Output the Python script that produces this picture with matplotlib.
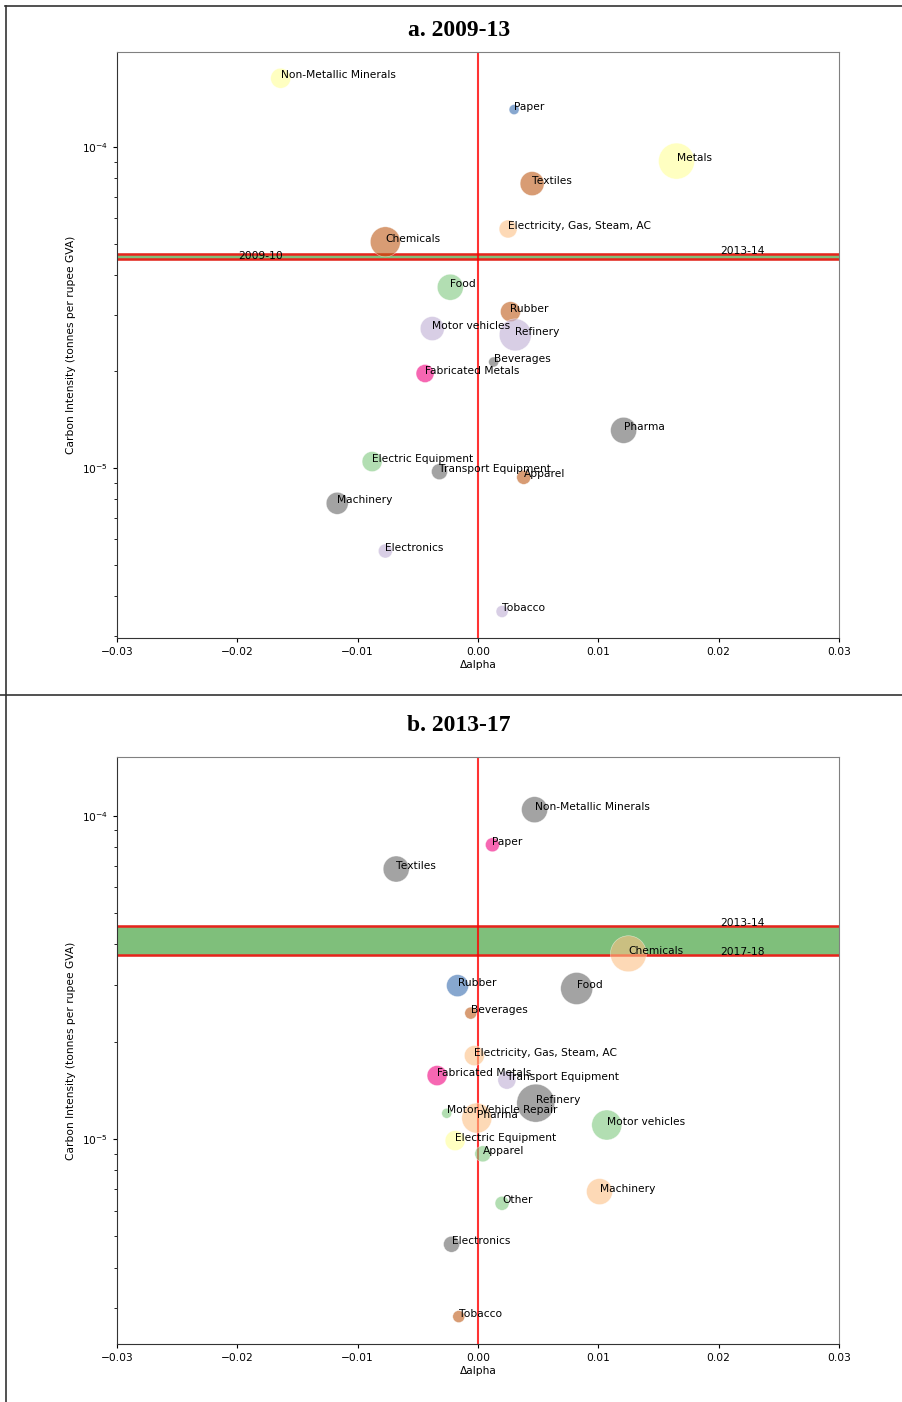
import matplotlib.pyplot as plt
from matplotlib.lines import Line2D

# Paleta (Accent)
GREEN, PURPLE, ORANGE, YELLOW = "#7fc97f", "#beaed4", "#fdc086", "#ffff99"
BLUE, PINK, BROWN, GREY = "#386cb0", "#f0027f", "#bf5b17", "#666666"

# ---- a. 2009-13 ----
setores_a = ["Non-Metallic Minerals", "Paper", "Metals", "Textiles",
             "Electricity, Gas, Steam, AC", "Chemicals", "Food", "Rubber",
             "Motor vehicles", "Refinery", "Beverages", "Fabricated Metals",
             "Pharma", "Electric Equipment", "Transport Equipment", "Apparel",
             "Machinery", "Electronics", "Tobacco"]
dalpha_a = [-0.0164, 0.0030, 0.0165, 0.0045, 0.0025, -0.0077, -0.0023, 0.0027,
            -0.0038, 0.0031, 0.0013, -0.0044, 0.0121, -0.0088, -0.0032, 0.0038,
            -0.0117, -0.0077, 0.0020]
ci_a = [1.64e-4, 1.31e-4, 9.05e-5, 7.70e-5, 5.56e-5, 5.07e-5, 3.66e-5, 3.07e-5,
        2.72e-5, 2.60e-5, 2.14e-5, 1.97e-5, 1.31e-5, 1.047e-5, 9.74e-6, 9.35e-6,
        7.76e-6, 5.51e-6, 3.57e-6]
peso_a = [10, 5, 18, 12, 9, 15, 13, 10, 12, 16, 5, 9, 13, 10, 8, 7, 11, 7, 6]
cores_a = [YELLOW, BLUE, YELLOW, BROWN, ORANGE, BROWN, GREEN, BROWN, PURPLE,
           PURPLE, GREY, PINK, GREY, GREEN, GREY, BROWN, GREY, PURPLE, PURPLE]
anos_a = ["2013-14", "2009-10"]
ci_ano_a = [4.64e-5, 4.48e-5]
x_ano_a = [0.0201, -0.0199]

# ---- b. 2013-17 ----
setores_b = ["Non-Metallic Minerals", "Paper", "Textiles", "Chemicals", "Rubber",
             "Food", "Beverages", "Electricity, Gas, Steam, AC",
             "Fabricated Metals", "Transport Equipment", "Refinery",
             "Motor Vehicle Repair", "Pharma", "Motor vehicles",
             "Electric Equipment", "Apparel", "Machinery", "Other",
             "Electronics", "Tobacco"]
dalpha_b = [0.0047, 0.0012, -0.0068, 0.0125, -0.0017, 0.0082, -0.0006, -0.0003,
            -0.0034, 0.0024, 0.0048, -0.0026, -0.0001, 0.0107, -0.0019, 0.0004,
            0.0101, 0.0020, -0.0022, -0.0016]
ci_b = [1.044e-4, 8.13e-5, 6.84e-5, 3.74e-5, 2.98e-5, 2.92e-5, 2.45e-5, 1.81e-5,
        1.57e-5, 1.52e-5, 1.29e-5, 1.20e-5, 1.16e-5, 1.104e-5, 9.88e-6, 8.99e-6,
        6.87e-6, 6.32e-6, 4.72e-6, 2.82e-6]
peso_b = [13, 7, 13, 18, 11, 16, 6, 10, 10, 9, 19, 5, 15, 15, 10, 8, 13, 7, 8, 6]
cores_b = [GREY, PINK, GREY, ORANGE, BLUE, GREY, BROWN, ORANGE, PINK, PURPLE,
           GREY, GREEN, ORANGE, GREEN, YELLOW, GREEN, ORANGE, GREEN, GREY, BROWN]
anos_b = ["2013-14", "2017-18"]
ci_ano_b = [4.55e-5, 3.72e-5]
x_ano_b = [0.0201, 0.0201]

FS = 7.7

fig = plt.figure(figsize=(9.03, 14.02), dpi=100)


def painel(rect, titulo, titulo_y, setores, dalpha, ci, peso, cores,
           anos, ci_ano, x_ano, ylim):
    ax = fig.add_axes(rect)
    ax.set_yscale("log")
    ax.axhspan(min(ci_ano), max(ci_ano), color="#7fbf7b", zorder=1)
    for lab, v, xt in zip(anos, ci_ano, x_ano):
        ax.axhline(v, color="#e8231c", lw=1.8, zorder=2)
        ax.text(xt, v, lab, fontsize=FS, zorder=5)
    ax.axvline(0, color="red", lw=1.5, alpha=0.8, zorder=2)
    ax.scatter(dalpha, ci, s=[(1.44 * p) ** 2 for p in peso], c=cores,
               alpha=0.6, edgecolors="white", linewidths=0.4, zorder=3)
    for nome, x, y in zip(setores, dalpha, ci):
        ax.text(x, y, nome, fontsize=FS, zorder=6)
    ax.set_xlim(-0.03, 0.03)
    ax.set_ylim(*ylim)
    ax.set_xticks([-0.03, -0.02, -0.01, 0.0, 0.01, 0.02, 0.03])
    ax.tick_params(labelsize=FS, length=3, width=0.8)
    ax.tick_params(which="minor", length=2, width=0.6)
    ax.set_xlabel("\u0394alpha", fontsize=FS, labelpad=2)
    ax.set_ylabel("Carbon Intensity (tonnes per rupee GVA)", fontsize=FS)
    for s in ["top", "right"]:
        ax.spines[s].set_color("#808080")
    for s in ["left", "bottom"]:
        ax.spines[s].set_color("#333333")
    fig.text(0.508, titulo_y, titulo, ha="center", va="center",
             fontsize=17, fontweight="bold", family="Liberation Serif")
    return ax


painel([0.1296, 0.5449, 0.7995, 0.4180], "a. 2009-13", 0.9786,
       setores_a, dalpha_a, ci_a, peso_a, cores_a, anos_a, ci_ano_a, x_ano_a,
       (2.95e-6, 1.98e-4))
painel([0.1296, 0.0414, 0.7995, 0.4187], "b. 2013-17", 0.4822,
       setores_b, dalpha_b, ci_b, peso_b, cores_b, anos_b, ci_ano_b, x_ano_b,
       (2.32e-6, 1.52e-4))

# Molduras
fig.add_artist(Line2D([0.005, 1.0], [0.9957, 0.9957], color="#333333", lw=1.2))
fig.add_artist(Line2D([0.0066, 0.0066], [0.0, 0.9957], color="#333333", lw=1.2))
fig.add_artist(Line2D([0.0, 1.0], [0.5043, 0.5043], color="#333333", lw=1.2))

fig.savefig("out.png", dpi=100)
plt.close()
